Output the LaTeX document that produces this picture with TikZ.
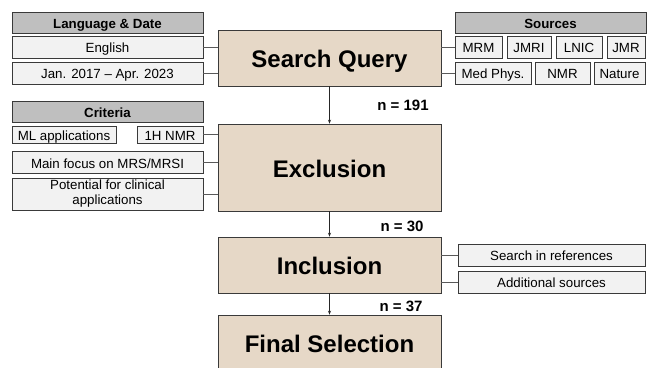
\documentclass[tikz,border=0pt]{standalone}
\usepackage{fontspec}
\setmainfont{Liberation Sans}
\usetikzlibrary{arrows.meta,shadows}
\definecolor{beige}{HTML}{E6D8C7}
\definecolor{hdr}{HTML}{BFBFBF}
\definecolor{lite}{HTML}{F2F2F2}
\definecolor{edge}{HTML}{3A3A3A}
\definecolor{conn}{HTML}{595959}
\tikzset{
  box/.style={draw=edge, line width=0.6pt, inner sep=0pt,
    drop shadow={shadow xshift=0.8pt, shadow yshift=-0.8pt, fill=black!45, opacity=1}},
  mainbox/.style={box, fill=beige, minimum width=223pt, text height=24pt, text depth=5pt,
    font=\fontsize{24}{28}\selectfont\bfseries},
  hdrbox/.style={box, fill=hdr, minimum height=21pt, text height=13pt, text depth=1.5pt,
    font=\fontsize{13.3}{15}\selectfont\bfseries},
  smallbox/.style={box, fill=lite, minimum height=22pt, text height=13pt, text depth=1.5pt,
    font=\fontsize{13.3}{15}\selectfont},
  twoline/.style={box, fill=lite, align=center, font=\fontsize{13.3}{15}\selectfont},
  countlbl/.style={inner sep=0pt, font=\fontsize{15}{17}\selectfont\bfseries},
  link/.style={draw=conn, line width=0.9pt},
  flow/.style={draw=black!85, line width=0.6pt, -{Stealth[length=4pt,width=3pt]}}
}
\begin{document}
\begin{tikzpicture}[x=1pt,y=-1pt]
\useasboundingbox (0,0) rectangle (648,367);
% main column
\node[mainbox, minimum height=56pt] (sq) at (329.5,58) {Search Query};
\node[mainbox, minimum height=87pt] (ex) at (329.5,167.5) {Exclusion};
\node[mainbox, minimum height=56pt] (inc) at (329.5,265) {Inclusion};
\node[mainbox, minimum height=56pt] (fin) at (329.5,343) {Final Selection};
% language & date
\node[hdrbox, minimum width=191pt] (ldh) at (107.5,22.5) {Language \& Date};
\node[smallbox, minimum width=191pt] (en) at (107.5,47) {English};
\node[smallbox, minimum width=191pt] (dt) at (107.5,73) {Jan. 2017 – Apr. 2023};
% sources
\node[hdrbox, minimum width=191pt] (srh) at (550.5,22.5) {Sources};
\node[smallbox, minimum width=47pt] (mrm) at (478.5,47) {MRM};
\node[smallbox, minimum width=44pt] (jmri) at (529,47) {JMRI};
\node[smallbox, minimum width=46pt] (lnic) at (579,47) {LNIC};
\node[smallbox, minimum width=38pt] (jmr) at (626,47) {JMR};
\node[smallbox, minimum width=76pt] (med) at (493,73) {Med Phys.};
\node[smallbox, minimum width=55pt] (nmr) at (562.5,73) {NMR};
\node[smallbox, minimum width=51pt] (nat) at (619.5,73) {Nature};
% criteria
\node[hdrbox, minimum width=191pt] (crh) at (107.5,111.5) {Criteria};
\node[smallbox, minimum width=104pt, minimum height=17pt] (ml) at (64,134.5) {ML applications};
\node[smallbox, minimum width=66pt, minimum height=17pt] (hn) at (170,134.5) {1H NMR};
\node[smallbox, minimum width=191pt] (mf) at (107.5,162.5) {Main focus on MRS/MRSI};
\node[twoline, minimum width=191pt, minimum height=32pt] (pc) at (107.5,194) {Potential for clinical\\applications};
% inclusion extras
\node[smallbox, minimum width=187pt] (sr) at (551.5,255) {Search in references};
\node[smallbox, minimum width=187pt] (as) at (551.5,282) {Additional sources};
% links
\draw[link] (en.east) -- (sq.west |- en.east);
\draw[link] (dt.east) -- (sq.west |- dt.east);
\draw[link] (sq.east |- mrm.west) -- (mrm.west);
\draw[link] (sq.east |- med.west) -- (med.west);
\draw[link] (hn.east) -- (ex.west |- hn.east);
\draw[link] (mf.east) -- (ex.west |- mf.east);
\draw[link] (pc.east) -- (ex.west |- pc.east);
\draw[link] (inc.east |- sr.west) -- (sr.west);
\draw[link] (inc.east |- as.west) -- (as.west);
% flow
\draw[flow] (sq.south) -- (ex.north);
\draw[flow] (ex.south) -- (inc.north);
\draw[flow] (inc.south) -- (fin.north);
\node[countlbl] (n1) at (403,105) {n = 191};
\node[countlbl] (n2) at (402,226) {n = 30};
\node[countlbl] (n3) at (401,306) {n = 37};
\end{tikzpicture}
\end{document}
